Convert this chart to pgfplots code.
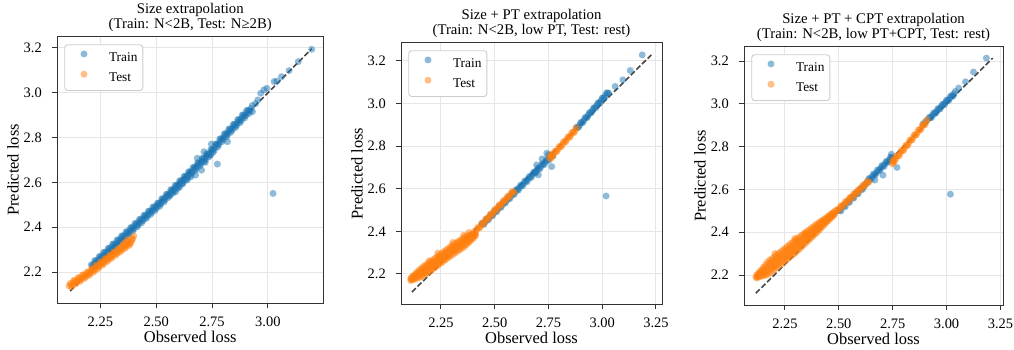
\documentclass[border=0pt]{standalone}
\usepackage{fontspec}
\setmainfont{Liberation Serif}
\usepackage{pgfplots}
\pgfplotsset{compat=1.18}
\definecolor{tabblue}{RGB}{31,119,180}
\definecolor{taborange}{RGB}{255,127,14}
\definecolor{gridc}{RGB}{230,230,230}
\definecolor{legc}{RGB}{204,204,204}
\pgfplotsset{
  panel/.style={
    scale only axis, anchor=south west,
    axis line style={black!80, line width=1bp},
    tick align=outside, tick pos=left,
    major tick length=5bp,
    tick style={black!80, line width=1bp},
    grid=major, major grid style={gridc, line width=1bp},
    ytick={2.2,2.4,2.6,2.8,3.0,3.2},
    yticklabels={2.2,2.4,2.6,2.8,3.0,3.2},
    xticklabel style={font=\fontsize{14.5}{16}\selectfont, inner sep=0pt, anchor=north, yshift=-8.7bp},
    yticklabel style={font=\fontsize{14.5}{16}\selectfont, inner sep=0pt, anchor=east, xshift=-10bp},
    xlabel={Observed loss}, ylabel={Predicted loss},
    xlabel style={font=\fontsize{16.5}{18}\selectfont, at={(axis description cs:0.5,0)}, anchor=north, inner sep=0pt, yshift=-28bp},
    ylabel style={font=\fontsize{16.5}{18}\selectfont, at={([xshift=-44bp]axis description cs:0,0.5)}, anchor=center, inner sep=0pt},
    title style={font=\fontsize{14.8}{15.2}\selectfont, align=center, inner sep=0pt, anchor=south, at={(axis description cs:0.5,1)}, yshift=-0.5bp},
    legend cell align=left,
    legend style={at={(axis description cs:0,1)}, anchor=north west, xshift=7.3bp, yshift=-7.3bp,
      draw=legc, line width=0.9bp, rounded corners=3bp, fill=white,
      inner xsep=5.4bp, inner ysep=5.7bp, row sep=6.2bp,
      font=\fontsize{13.4}{15}\selectfont,
      nodes={inner sep=0pt, text height=9.4bp, text depth=3bp}},
  },
  trainst/.style={only marks, mark=*, mark size=3.5bp, mark options={draw opacity=0, fill=tabblue, fill opacity=0.5},
    legend image code/.code={\path (0bp,0bp) (38bp,0bp); \draw[##1] plot coordinates {(13.4bp,4.4bp)};}},
  testst/.style={only marks, mark=*, mark size=3.5bp, mark options={draw opacity=0, fill=taborange, fill opacity=0.5},
    legend image code/.code={\path (0bp,0bp) (38bp,0bp); \draw[##1] plot coordinates {(13.4bp,4.4bp)};}},
  diagst/.style={forget plot, black, opacity=0.72, line width=1.6bp, dash pattern=on 5.5bp off 2.4bp},
}
\begin{document}
\begin{tikzpicture}
\path[use as bounding box] (0,0) rectangle (1014bp,350bp);
% ---------------- Panel 1
\begin{axis}[panel, at={(57bp,47bp)}, width=266.5bp, height=266bp,
  xmin=2.056, xmax=3.249, ymin=2.062, ymax=3.249,
  xtick={2.25,2.5,2.75,3.0}, xticklabels={2.25,2.50,2.75,3.00},
  title={Size extrapolation\\(Train: N<2B, Test: N≥2B)}]
\addplot[trainst] table[row sep=\\] {x y\\
2.21 2.233\\ 2.22 2.226\\ 2.23 2.251\\ 2.24 2.245\\ 2.25 2.270\\ 2.26 2.263\\ 2.27 2.288\\ 2.28 2.281\\ 2.29 2.307\\ 2.30 2.300\\
2.31 2.325\\ 2.32 2.318\\ 2.33 2.344\\ 2.34 2.337\\ 2.35 2.362\\ 2.36 2.355\\ 2.37 2.380\\ 2.38 2.374\\ 2.39 2.399\\ 2.40 2.392\\
2.41 2.417\\ 2.42 2.410\\ 2.43 2.436\\ 2.44 2.429\\ 2.45 2.454\\ 2.46 2.447\\ 2.47 2.472\\ 2.48 2.466\\ 2.49 2.491\\ 2.50 2.484\\
2.51 2.508\\ 2.52 2.502\\ 2.53 2.528\\ 2.54 2.522\\ 2.55 2.548\\ 2.56 2.542\\ 2.57 2.568\\ 2.58 2.562\\ 2.59 2.588\\ 2.60 2.582\\
2.61 2.608\\ 2.62 2.602\\ 2.63 2.628\\ 2.64 2.622\\ 2.65 2.648\\ 2.66 2.642\\ 2.67 2.668\\ 2.68 2.662\\ 2.69 2.688\\ 2.70 2.682\\
2.71 2.708\\ 2.72 2.702\\ 2.73 2.728\\ 2.74 2.722\\ 2.75 2.748\\ 2.76 2.744\\ 2.77 2.772\\ 2.78 2.768\\ 2.79 2.796\\ 2.80 2.792\\
2.81 2.818\\ 2.82 2.813\\ 2.83 2.839\\ 2.84 2.834\\ 2.85 2.860\\ 2.86 2.854\\ 2.87 2.881\\ 2.88 2.875\\ 2.89 2.902\\ 2.90 2.896\\
2.91 2.922\\ 2.92 2.917\\ 2.93 2.943\\
2.215 2.230\\ 2.225 2.239\\ 2.235 2.248\\ 2.245 2.257\\ 2.255 2.266\\ 2.265 2.276\\ 2.275 2.285\\ 2.285 2.294\\ 2.295 2.303\\
2.305 2.313\\ 2.315 2.322\\ 2.325 2.331\\ 2.335 2.340\\ 2.345 2.349\\ 2.355 2.359\\ 2.365 2.368\\ 2.375 2.377\\ 2.385 2.386\\
2.395 2.395\\ 2.405 2.405\\ 2.415 2.414\\ 2.425 2.423\\ 2.435 2.432\\ 2.445 2.441\\ 2.455 2.451\\ 2.465 2.460\\ 2.475 2.469\\
2.485 2.478\\ 2.495 2.487\\ 2.505 2.495\\ 2.515 2.505\\ 2.525 2.515\\ 2.535 2.525\\ 2.545 2.535\\ 2.555 2.545\\ 2.565 2.555\\
2.575 2.565\\ 2.585 2.575\\ 2.595 2.585\\ 2.605 2.595\\ 2.615 2.605\\ 2.625 2.615\\ 2.635 2.625\\ 2.645 2.635\\ 2.655 2.645\\
2.665 2.655\\ 2.675 2.665\\ 2.685 2.675\\ 2.695 2.685\\ 2.705 2.695\\ 2.715 2.705\\ 2.725 2.715\\ 2.735 2.725\\ 2.745 2.735\\
2.755 2.746\\ 2.765 2.758\\ 2.775 2.770\\ 2.785 2.782\\ 2.795 2.794\\ 2.805 2.805\\ 2.815 2.816\\ 2.825 2.826\\ 2.835 2.836\\
2.845 2.847\\ 2.855 2.857\\ 2.865 2.868\\ 2.875 2.878\\ 2.885 2.888\\ 2.895 2.899\\ 2.905 2.909\\ 2.915 2.919\\ 2.925 2.930\\
2.215 2.218\\ 2.225 2.251\\ 2.235 2.236\\ 2.245 2.269\\ 2.255 2.254\\ 2.265 2.288\\ 2.275 2.273\\ 2.285 2.306\\ 2.295 2.291\\
2.305 2.325\\ 2.315 2.310\\ 2.325 2.343\\ 2.335 2.328\\ 2.345 2.361\\ 2.355 2.347\\ 2.365 2.380\\ 2.375 2.365\\ 2.385 2.398\\
2.395 2.383\\ 2.405 2.417\\ 2.415 2.402\\ 2.425 2.435\\ 2.435 2.420\\ 2.445 2.453\\ 2.455 2.439\\ 2.465 2.472\\ 2.475 2.457\\
2.485 2.490\\ 2.495 2.475\\ 2.505 2.507\\ 2.515 2.493\\ 2.525 2.527\\ 2.535 2.513\\ 2.545 2.547\\ 2.555 2.533\\ 2.565 2.567\\
2.575 2.553\\ 2.585 2.587\\ 2.595 2.573\\ 2.605 2.607\\ 2.615 2.593\\ 2.625 2.627\\ 2.635 2.613\\ 2.645 2.647\\ 2.655 2.633\\
2.665 2.667\\ 2.675 2.653\\ 2.685 2.687\\ 2.695 2.673\\ 2.705 2.707\\ 2.715 2.693\\ 2.725 2.727\\ 2.735 2.713\\ 2.745 2.747\\
2.755 2.734\\ 2.765 2.770\\ 2.775 2.758\\ 2.785 2.794\\ 2.795 2.782\\ 2.805 2.817\\ 2.815 2.804\\ 2.825 2.838\\ 2.835 2.824\\
2.845 2.859\\ 2.855 2.845\\ 2.865 2.880\\ 2.875 2.866\\ 2.885 2.900\\ 2.895 2.887\\ 2.905 2.921\\ 2.915 2.907\\
2.945 2.952\\ 2.955 2.968\\ 2.968 2.998\\ 2.982 3.013\\ 2.995 3.020\\ 3.028 3.050\\ 3.040 3.052\\ 3.061 3.072\\ 3.095 3.099\\
3.136 3.139\\ 3.196 3.194\\ 3.023 2.551\\ 2.587 2.558\\ 2.564 2.544\\ 2.605 2.578\\ 2.639 2.611\\ 2.676 2.633\\ 2.703 2.655\\
2.774 2.682\\ 2.744 2.722\\ 2.747 2.771\\ 2.714 2.737\\ 2.684 2.708\\ 2.819 2.782\\ 2.931 2.916\\ 2.655 2.625\\ 2.620 2.595\\ 2.720 2.690\\
};
\addlegendentry{Train}
\addplot[testst] table[row sep=\\] {x y\\
2.110 2.138\\ 2.115 2.149\\ 2.125 2.141\\ 2.135 2.162\\ 2.145 2.154\\ 2.155 2.174\\ 2.165 2.167\\ 2.175 2.187\\ 2.185 2.180\\ 2.195 2.200\\
2.205 2.193\\ 2.215 2.214\\ 2.225 2.208\\ 2.235 2.230\\ 2.245 2.223\\ 2.255 2.245\\ 2.265 2.238\\ 2.275 2.260\\ 2.285 2.254\\ 2.295 2.275\\
2.305 2.269\\ 2.315 2.290\\ 2.325 2.283\\ 2.335 2.305\\ 2.345 2.298\\ 2.355 2.319\\ 2.365 2.313\\ 2.375 2.334\\ 2.385 2.327\\ 2.395 2.348\\
2.400 2.361\\ 2.370 2.345\\ 2.355 2.328\\
2.12 2.145\\ 2.13 2.151\\ 2.14 2.158\\ 2.15 2.164\\ 2.16 2.170\\ 2.17 2.177\\ 2.18 2.183\\ 2.19 2.189\\ 2.20 2.196\\ 2.21 2.204\\
2.22 2.211\\ 2.23 2.219\\ 2.24 2.226\\ 2.25 2.234\\ 2.26 2.242\\ 2.27 2.249\\ 2.28 2.257\\ 2.29 2.264\\ 2.30 2.272\\ 2.31 2.279\\
2.32 2.287\\ 2.33 2.294\\ 2.34 2.301\\ 2.35 2.308\\ 2.36 2.316\\ 2.37 2.323\\ 2.38 2.330\\ 2.39 2.338\\
2.12 2.134\\ 2.13 2.162\\ 2.14 2.147\\ 2.15 2.175\\ 2.16 2.159\\ 2.17 2.188\\ 2.18 2.172\\ 2.19 2.200\\ 2.20 2.185\\ 2.21 2.215\\
2.22 2.200\\ 2.23 2.230\\ 2.24 2.215\\ 2.25 2.245\\ 2.26 2.231\\ 2.27 2.260\\ 2.28 2.246\\ 2.29 2.275\\ 2.30 2.261\\ 2.31 2.290\\
2.32 2.276\\ 2.33 2.305\\ 2.34 2.290\\ 2.35 2.319\\ 2.36 2.305\\ 2.37 2.334\\ 2.38 2.319\\ 2.39 2.349\\
};
\addlegendentry{Test}
\addplot[diagst] coordinates {(2.115,2.115) (3.197,3.197)};
\end{axis}
% ---------------- Panel 2
\begin{axis}[panel, at={(401bp,46bp)}, width=261bp, height=261bp,
  xmin=2.064, xmax=3.278, ymin=2.059, ymax=3.284,
  xtick={2.25,2.5,2.75,3.0,3.25}, xticklabels={2.25,2.50,2.75,3.00,3.25},
  title={Size + PT extrapolation\\(Train: N<2B, low PT, Test: rest)}]
\addplot[trainst] table[row sep=\\] {x y\\
2.44 2.437\\ 2.45 2.433\\ 2.46 2.457\\ 2.47 2.453\\ 2.48 2.477\\ 2.49 2.473\\ 2.50 2.497\\ 2.51 2.493\\ 2.52 2.517\\ 2.53 2.513\\
2.54 2.537\\ 2.55 2.533\\ 2.56 2.557\\ 2.57 2.553\\ 2.58 2.577\\ 2.59 2.573\\ 2.60 2.597\\ 2.61 2.593\\ 2.62 2.617\\ 2.63 2.613\\
2.64 2.637\\ 2.65 2.633\\ 2.66 2.657\\ 2.67 2.653\\ 2.68 2.677\\ 2.69 2.673\\ 2.70 2.697\\ 2.71 2.693\\ 2.72 2.717\\ 2.73 2.713\\
2.74 2.737\\ 2.75 2.733\\ 2.76 2.757\\ 2.77 2.753\\
2.445 2.435\\ 2.455 2.445\\ 2.465 2.455\\ 2.475 2.465\\ 2.485 2.475\\ 2.495 2.485\\ 2.505 2.495\\ 2.515 2.505\\ 2.525 2.515\\
2.535 2.525\\ 2.545 2.535\\ 2.555 2.545\\ 2.565 2.555\\ 2.575 2.565\\ 2.585 2.575\\ 2.595 2.585\\ 2.605 2.595\\ 2.615 2.605\\
2.625 2.615\\ 2.635 2.625\\ 2.645 2.635\\ 2.655 2.645\\ 2.665 2.655\\ 2.675 2.665\\ 2.685 2.675\\ 2.695 2.685\\ 2.705 2.695\\
2.715 2.705\\ 2.725 2.715\\ 2.735 2.725\\ 2.745 2.735\\ 2.755 2.745\\ 2.765 2.755\\
2.88 2.888\\ 2.89 2.888\\ 2.90 2.911\\ 2.91 2.911\\ 2.92 2.934\\ 2.93 2.934\\ 2.94 2.957\\ 2.95 2.957\\ 2.96 2.980\\ 2.97 2.980\\
2.98 3.003\\ 2.99 3.003\\ 3.00 3.026\\ 3.01 3.026\\ 3.02 3.050\\ 3.03 3.049\\
2.885 2.888\\ 2.895 2.899\\ 2.905 2.911\\ 2.915 2.922\\ 2.925 2.934\\ 2.935 2.945\\ 2.945 2.957\\ 2.955 2.969\\ 2.965 2.980\\
2.975 2.992\\ 2.985 3.003\\ 2.995 3.015\\ 3.005 3.026\\ 3.015 3.038\\ 3.025 3.049\\
3.060 3.080\\ 3.096 3.111\\ 3.130 3.155\\ 3.186 3.228\\ 3.018 2.566\\
2.703 2.665\\ 2.765 2.704\\ 2.750 2.759\\ 2.742 2.767\\ 2.688 2.680\\ 2.720 2.740\\ 2.695 2.712\\
};
\addlegendentry{Train}
\addplot[testst] table[row sep=\\] {x y\\
2.11 2.181\\ 2.11 2.175\\ 2.11 2.169\\ 2.12 2.191\\ 2.12 2.182\\ 2.12 2.173\\ 2.13 2.200\\ 2.13 2.188\\ 2.13 2.176\\
2.14 2.210\\ 2.14 2.195\\ 2.14 2.180\\ 2.15 2.220\\ 2.15 2.202\\ 2.15 2.184\\ 2.16 2.228\\ 2.16 2.208\\ 2.16 2.188\\
2.17 2.237\\ 2.17 2.215\\ 2.17 2.193\\ 2.18 2.244\\ 2.18 2.222\\ 2.18 2.200\\ 2.19 2.250\\ 2.19 2.228\\ 2.19 2.206\\
2.20 2.257\\ 2.20 2.235\\ 2.20 2.213\\ 2.21 2.265\\ 2.21 2.243\\ 2.21 2.221\\ 2.22 2.272\\ 2.22 2.250\\ 2.22 2.228\\
2.23 2.280\\ 2.23 2.258\\ 2.23 2.236\\ 2.24 2.287\\ 2.24 2.265\\ 2.24 2.243\\ 2.25 2.295\\ 2.25 2.273\\ 2.25 2.251\\
2.26 2.302\\ 2.26 2.280\\ 2.26 2.258\\ 2.27 2.310\\ 2.27 2.288\\ 2.27 2.266\\ 2.28 2.317\\ 2.28 2.295\\ 2.28 2.273\\
2.29 2.325\\ 2.29 2.303\\ 2.29 2.281\\ 2.30 2.332\\ 2.30 2.310\\ 2.30 2.288\\ 2.31 2.339\\ 2.31 2.317\\ 2.31 2.295\\
2.32 2.346\\ 2.32 2.324\\ 2.32 2.302\\ 2.33 2.353\\ 2.33 2.331\\ 2.33 2.309\\ 2.34 2.359\\ 2.34 2.337\\ 2.34 2.315\\
2.35 2.366\\ 2.35 2.344\\ 2.35 2.322\\ 2.36 2.373\\ 2.36 2.351\\ 2.36 2.329\\ 2.37 2.378\\ 2.37 2.358\\ 2.37 2.338\\
2.38 2.382\\ 2.38 2.365\\ 2.38 2.348\\ 2.39 2.385\\ 2.39 2.371\\ 2.39 2.357\\ 2.40 2.388\\ 2.40 2.378\\ 2.40 2.368\\
2.41 2.391\\ 2.41 2.385\\ 2.41 2.379\\
2.115 2.183\\ 2.115 2.175\\ 2.125 2.190\\ 2.125 2.180\\ 2.135 2.199\\ 2.135 2.185\\ 2.145 2.207\\ 2.145 2.191\\
2.155 2.215\\ 2.155 2.195\\ 2.165 2.223\\ 2.165 2.201\\ 2.175 2.230\\ 2.175 2.208\\ 2.185 2.236\\ 2.185 2.214\\
2.195 2.243\\ 2.195 2.221\\ 2.205 2.250\\ 2.205 2.228\\ 2.215 2.258\\ 2.215 2.236\\ 2.225 2.265\\ 2.225 2.243\\
2.235 2.273\\ 2.235 2.251\\ 2.245 2.280\\ 2.245 2.258\\ 2.255 2.288\\ 2.255 2.266\\ 2.265 2.295\\ 2.265 2.273\\
2.275 2.303\\ 2.275 2.281\\ 2.285 2.310\\ 2.285 2.288\\ 2.295 2.318\\ 2.295 2.296\\ 2.305 2.325\\ 2.305 2.303\\
2.315 2.332\\ 2.315 2.310\\ 2.325 2.339\\ 2.325 2.317\\ 2.335 2.345\\ 2.335 2.323\\ 2.345 2.352\\ 2.345 2.330\\
2.355 2.359\\ 2.355 2.337\\ 2.365 2.365\\ 2.365 2.344\\ 2.375 2.371\\ 2.375 2.352\\ 2.385 2.376\\ 2.385 2.360\\
2.395 2.381\\ 2.395 2.368\\ 2.405 2.386\\ 2.405 2.377\\
2.195 2.262\\ 2.235 2.298\\ 2.305 2.348\\ 2.355 2.382\\ 2.380 2.395\\ 2.405 2.400\\
2.42 2.417\\ 2.43 2.416\\ 2.44 2.438\\ 2.45 2.437\\ 2.46 2.460\\ 2.47 2.459\\ 2.48 2.481\\ 2.49 2.480\\ 2.50 2.503\\
2.51 2.501\\ 2.52 2.524\\ 2.53 2.522\\ 2.54 2.544\\ 2.55 2.543\\ 2.56 2.565\\ 2.57 2.563\\ 2.58 2.586\\ 2.59 2.584\\
2.415 2.405\\ 2.425 2.416\\ 2.435 2.427\\ 2.445 2.438\\ 2.455 2.449\\ 2.465 2.459\\ 2.475 2.470\\ 2.485 2.481\\ 2.495 2.492\\
2.505 2.502\\ 2.515 2.513\\ 2.525 2.523\\ 2.535 2.533\\ 2.545 2.544\\ 2.555 2.554\\ 2.565 2.564\\ 2.575 2.575\\ 2.585 2.585\\
2.755 2.745\\ 2.760 2.740\\ 2.762 2.762\\
2.76 2.754\\ 2.77 2.753\\ 2.78 2.776\\ 2.79 2.775\\ 2.80 2.798\\ 2.81 2.798\\ 2.82 2.821\\ 2.83 2.820\\ 2.84 2.843\\
2.85 2.842\\ 2.86 2.865\\ 2.87 2.864\\ 2.88 2.887\\
2.765 2.754\\ 2.775 2.765\\ 2.785 2.776\\ 2.795 2.787\\ 2.805 2.798\\ 2.815 2.809\\ 2.825 2.820\\ 2.835 2.831\\
2.845 2.843\\ 2.855 2.854\\ 2.865 2.865\\ 2.875 2.876\\
};
\addlegendentry{Test}
\addplot[diagst] coordinates {(2.115,2.115) (3.228,3.228)};
\end{axis}
% ---------------- Panel 3
\begin{axis}[panel, at={(744bp,45bp)}, width=259bp, height=258bp,
  xmin=2.060, xmax=3.262, ymin=2.060, ymax=3.266,
  xtick={2.25,2.5,2.75,3.0,3.25}, xticklabels={2.25,2.50,2.75,3.00,3.25},
  title={Size + PT + CPT extrapolation\\(Train: N<2B, low PT+CPT, Test: rest)}]
\addplot[trainst] table[row sep=\\] {x y\\
2.50 2.504\\ 2.51 2.500\\ 2.52 2.524\\ 2.53 2.520\\ 2.54 2.544\\ 2.55 2.540\\ 2.56 2.564\\ 2.57 2.560\\ 2.58 2.584\\ 2.59 2.580\\
2.60 2.604\\ 2.61 2.600\\ 2.62 2.624\\ 2.63 2.628\\ 2.64 2.652\\ 2.65 2.648\\ 2.66 2.672\\ 2.67 2.668\\ 2.68 2.692\\ 2.69 2.688\\
2.70 2.712\\ 2.71 2.708\\ 2.72 2.732\\ 2.73 2.728\\ 2.74 2.752\\ 2.75 2.748\\
2.505 2.502\\ 2.525 2.522\\ 2.545 2.542\\ 2.565 2.562\\ 2.585 2.582\\ 2.605 2.602\\ 2.615 2.612\\
2.635 2.640\\ 2.645 2.650\\ 2.655 2.660\\ 2.665 2.670\\ 2.675 2.680\\ 2.685 2.690\\ 2.695 2.700\\ 2.705 2.710\\
2.715 2.720\\ 2.725 2.730\\ 2.735 2.740\\ 2.745 2.750\\
2.667 2.644\\ 2.705 2.667\\ 2.770 2.703\\ 2.744 2.765\\
2.89 2.905\\ 2.90 2.915\\ 2.91 2.924\\ 2.92 2.938\\ 2.93 2.936\\ 2.94 2.958\\ 2.95 2.956\\ 2.96 2.978\\ 2.97 2.976\\ 2.98 2.998\\
2.99 2.996\\ 3.00 3.018\\ 3.01 3.016\\ 3.02 3.038\\ 3.03 3.036\\ 3.04 3.058\\
2.925 2.937\\ 2.935 2.947\\ 2.945 2.957\\ 2.955 2.967\\ 2.965 2.977\\ 2.975 2.987\\ 2.985 2.997\\ 2.995 3.007\\
3.005 3.017\\ 3.015 3.027\\ 3.025 3.037\\ 3.035 3.047\\
3.056 3.074\\ 3.088 3.103\\ 3.125 3.149\\ 3.185 3.214\\ 3.018 2.578\\
};
\addlegendentry{Train}
\addplot[testst] table[row sep=\\] {x y\\
2.12 2.202\\ 2.12 2.194\\ 2.12 2.186\\ 2.13 2.213\\ 2.13 2.202\\ 2.13 2.191\\ 2.14 2.224\\ 2.14 2.209\\ 2.14 2.194\\
2.15 2.237\\ 2.15 2.217\\ 2.15 2.197\\ 2.16 2.249\\ 2.16 2.224\\ 2.16 2.199\\ 2.17 2.262\\ 2.17 2.232\\ 2.17 2.202\\
2.18 2.270\\ 2.18 2.240\\ 2.18 2.210\\ 2.19 2.277\\ 2.19 2.247\\ 2.19 2.217\\ 2.20 2.285\\ 2.20 2.255\\ 2.20 2.225\\
2.21 2.293\\ 2.21 2.263\\ 2.21 2.233\\ 2.22 2.301\\ 2.22 2.271\\ 2.22 2.241\\ 2.23 2.309\\ 2.23 2.279\\ 2.23 2.249\\
2.24 2.317\\ 2.24 2.287\\ 2.24 2.257\\ 2.25 2.325\\ 2.25 2.295\\ 2.25 2.265\\ 2.26 2.333\\ 2.26 2.303\\ 2.26 2.273\\
2.27 2.341\\ 2.27 2.311\\ 2.27 2.281\\ 2.28 2.349\\ 2.28 2.319\\ 2.28 2.289\\ 2.29 2.357\\ 2.29 2.327\\ 2.29 2.297\\
2.30 2.365\\ 2.30 2.335\\ 2.30 2.305\\ 2.31 2.373\\ 2.31 2.344\\ 2.31 2.315\\ 2.32 2.380\\ 2.32 2.352\\ 2.32 2.324\\
2.33 2.388\\ 2.33 2.361\\ 2.33 2.334\\ 2.34 2.395\\ 2.34 2.369\\ 2.34 2.343\\ 2.35 2.403\\ 2.35 2.378\\ 2.35 2.353\\
2.36 2.410\\ 2.36 2.386\\ 2.36 2.362\\ 2.37 2.418\\ 2.37 2.395\\ 2.37 2.372\\ 2.38 2.425\\ 2.38 2.403\\ 2.38 2.381\\
2.39 2.433\\ 2.39 2.412\\ 2.39 2.391\\ 2.40 2.440\\ 2.40 2.420\\ 2.40 2.400\\ 2.41 2.447\\ 2.41 2.429\\ 2.41 2.411\\
2.42 2.454\\ 2.42 2.438\\ 2.42 2.422\\ 2.43 2.460\\ 2.43 2.446\\ 2.43 2.432\\ 2.44 2.467\\ 2.44 2.455\\ 2.44 2.443\\
2.45 2.475\\ 2.45 2.464\\ 2.45 2.453\\ 2.46 2.483\\ 2.46 2.473\\ 2.46 2.463\\ 2.47 2.490\\ 2.47 2.481\\ 2.47 2.472\\
2.48 2.498\\ 2.48 2.490\\ 2.48 2.482\\
2.125 2.203\\ 2.125 2.193\\ 2.135 2.212\\ 2.135 2.199\\ 2.145 2.222\\ 2.145 2.204\\ 2.155 2.232\\ 2.155 2.210\\
2.165 2.242\\ 2.165 2.214\\ 2.175 2.251\\ 2.175 2.221\\ 2.185 2.259\\ 2.185 2.229\\ 2.195 2.266\\ 2.195 2.236\\
2.205 2.274\\ 2.205 2.244\\ 2.215 2.282\\ 2.215 2.252\\ 2.225 2.290\\ 2.225 2.260\\ 2.235 2.298\\ 2.235 2.268\\
2.245 2.306\\ 2.245 2.276\\ 2.255 2.314\\ 2.255 2.284\\ 2.265 2.322\\ 2.265 2.292\\ 2.275 2.330\\ 2.275 2.300\\
2.285 2.338\\ 2.285 2.308\\ 2.295 2.346\\ 2.295 2.316\\ 2.305 2.354\\ 2.305 2.325\\ 2.315 2.362\\ 2.315 2.334\\
2.325 2.370\\ 2.325 2.343\\ 2.335 2.378\\ 2.335 2.352\\ 2.345 2.386\\ 2.345 2.361\\ 2.355 2.394\\ 2.355 2.370\\
2.365 2.402\\ 2.365 2.379\\ 2.375 2.410\\ 2.375 2.388\\ 2.385 2.418\\ 2.385 2.397\\ 2.395 2.426\\ 2.395 2.406\\
2.405 2.434\\ 2.405 2.415\\ 2.415 2.442\\ 2.415 2.425\\ 2.425 2.450\\ 2.425 2.434\\ 2.435 2.458\\ 2.435 2.444\\
2.445 2.465\\ 2.445 2.454\\ 2.455 2.474\\ 2.455 2.464\\ 2.465 2.482\\ 2.465 2.472\\ 2.475 2.490\\ 2.475 2.482\\
2.204 2.301\\ 2.296 2.371\\ 2.343 2.395\\ 2.115 2.190\\
2.49 2.505\\ 2.50 2.503\\ 2.51 2.524\\ 2.52 2.522\\ 2.53 2.543\\ 2.54 2.540\\ 2.55 2.562\\ 2.56 2.559\\ 2.57 2.581\\
2.58 2.578\\ 2.59 2.599\\ 2.60 2.597\\ 2.61 2.618\\ 2.62 2.616\\ 2.63 2.637\\ 2.64 2.635\\
2.495 2.504\\ 2.505 2.514\\ 2.515 2.523\\ 2.525 2.532\\ 2.535 2.542\\ 2.545 2.551\\ 2.555 2.561\\ 2.565 2.570\\
2.575 2.579\\ 2.585 2.589\\ 2.595 2.598\\ 2.605 2.608\\ 2.615 2.617\\ 2.625 2.626\\ 2.635 2.636\\
2.752 2.725\\ 2.757 2.745\\ 2.750 2.720\\
2.75 2.734\\ 2.76 2.734\\ 2.77 2.758\\ 2.78 2.758\\ 2.79 2.782\\ 2.80 2.782\\ 2.81 2.806\\ 2.82 2.806\\ 2.83 2.831\\
2.84 2.831\\ 2.85 2.855\\ 2.86 2.855\\ 2.87 2.879\\ 2.88 2.879\\ 2.89 2.903\\ 2.90 2.903\\ 2.91 2.927\\
2.755 2.734\\ 2.765 2.746\\ 2.775 2.758\\ 2.785 2.770\\ 2.795 2.782\\ 2.805 2.794\\ 2.815 2.806\\ 2.825 2.819\\
2.835 2.831\\ 2.845 2.843\\ 2.855 2.855\\ 2.865 2.867\\ 2.875 2.879\\ 2.885 2.891\\ 2.895 2.903\\ 2.905 2.915\\
};
\addlegendentry{Test}
\addplot[diagst] coordinates {(2.115,2.115) (3.214,3.214)};
\end{axis}
\end{tikzpicture}
\end{document}
